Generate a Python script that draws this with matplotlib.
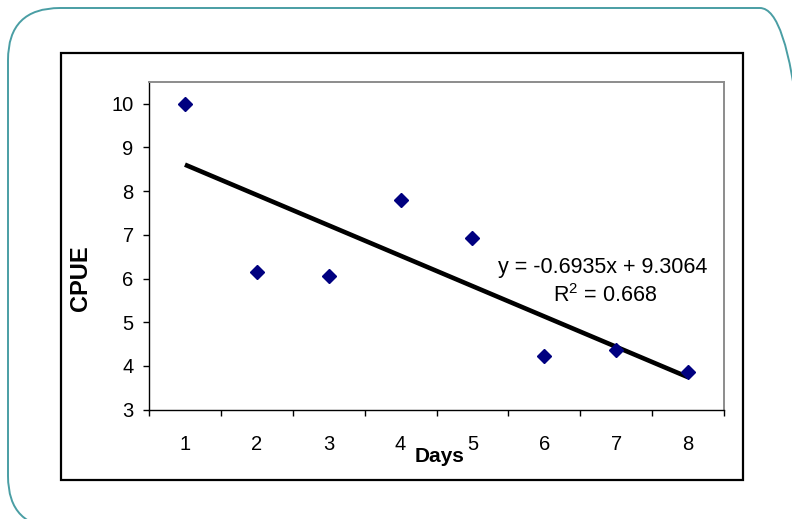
import numpy as np
import matplotlib
matplotlib.use("Agg")
import matplotlib.pyplot as plt
from matplotlib.patches import FancyBboxPatch, Rectangle

# ---- data ----
days = [1, 2, 3, 4, 5, 6, 7, 8]
cpue = [10.0, 6.16, 6.06, 7.80, 6.92, 4.23, 4.37, 3.85]
x_labels = ["1", "2", "3", "4", "5", "6", "7", "8"]
y_ticks = [3, 4, 5, 6, 7, 8, 9, 10]
eq_text = "y = -0.6935x + 9.3064"
r2_text = "R$^2$ = 0.668"

plt.rcParams['font.family'] = ['Liberation Sans', 'DejaVu Sans']
plt.rcParams['mathtext.fontset'] = 'custom'
plt.rcParams['mathtext.rm'] = 'Liberation Sans'

W, H = 792, 519
fig = plt.figure(figsize=(W / 100, H / 100), dpi=100)
fig.patch.set_facecolor("white")

# overlay for frame decorations (pixel coordinates, y up)
ov = fig.add_axes([0, 0, 1, 1])
ov.set_xlim(0, W)
ov.set_ylim(0, H)
ov.axis("off")
ov.add_patch(FancyBboxPatch((8, H - 528), 804, 520, boxstyle="round,pad=0,rounding_size=52",
                            fill=False, edgecolor="#4a9ea4", linewidth=1.4, clip_on=False))
ov.add_patch(Rectangle((61, H - 480), 682, 427.5, fill=False, edgecolor="black", linewidth=1.6))

# main axes
L, R, T, B = 149, 724, 82.3, 409.6
ax = fig.add_axes([L / W, (H - B) / H, (R - L) / W, (B - T) / H])
ax.set_xlim(0.5, 8.5)
ax.set_ylim(3, 10.49)

x = np.array(days, dtype=float)
y = np.array(cpue)
coef = np.polyfit(x, y, 1)
xt = np.array([x.min(), x.max()])
ax.plot(xt, np.polyval(coef, xt), color="black", linewidth=3.3, solid_capstyle="butt", zorder=2)
ax.plot(x, y, linestyle="none", marker="D", markersize=6.8, color="#000080", zorder=3)

for s in ["top", "right"]:
    ax.spines[s].set_color("#8c8c8c")
    ax.spines[s].set_linewidth(1.4)
for s in ["left", "bottom"]:
    ax.spines[s].set_color("black")
    ax.spines[s].set_linewidth(1.0)

ax.set_yticks(y_ticks)
ax.set_yticklabels([str(v) for v in y_ticks])
ax.tick_params(axis="y", direction="out", length=4, width=1, pad=7, labelsize=14.5)

ax.set_xticks(np.arange(0.5, 9.0, 1.0))
ax.set_xticklabels([])
ax.tick_params(axis="x", which="major", direction="out", length=4, width=1)
ax.set_xticks(days, minor=True)
ax.set_xticklabels(x_labels, minor=True)
ax.tick_params(axis="x", which="minor", length=0, pad=18, labelsize=14.5)

# axis titles
fig.text(81 / W, 1 - 278 / H, "CPUE", rotation=90, ha="center", va="center",
         fontsize=17, fontweight="bold")
fig.text(440 / W, 1 - 457 / H, "Days", ha="center", va="center",
         fontsize=15, fontweight="bold")

# trendline label
fig.text(603 / W, 1 - 268 / H, eq_text, ha="center", va="center", fontsize=15.5)
fig.text(605 / W, 1 - 296 / H, r2_text, ha="center", va="center", fontsize=15.5)

fig.savefig("out.png", dpi=100, facecolor="white")
